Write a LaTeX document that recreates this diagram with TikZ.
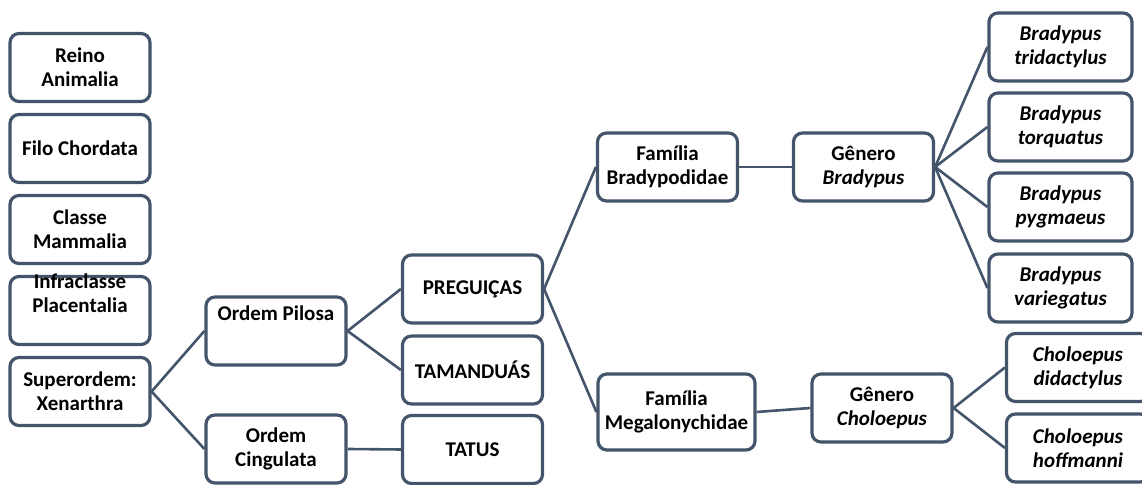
\documentclass[tikz,border=0pt]{standalone}
\usepackage{fontspec}
\setmainfont{Carlito}
\usepackage{tikz}
\usetikzlibrary{positioning}
\definecolor{slate}{RGB}{68,84,106}

\begin{document}
\begin{tikzpicture}[x=0.5pt, y=-0.5pt, font=\fontsize{10.5}{12}\selectfont\bfseries, every node/.style={inner sep=2pt}]
    \tikzset{
        taxon/.style={draw=slate, line width=1.6pt, rounded corners=4.5pt, fill=white, align=center, minimum width=70pt, minimum height=34pt},
        species/.style={taxon, minimum width=71.5pt, font=\fontsize{10.5}{12}\selectfont\bfseries\itshape},
        wide/.style={taxon, minimum width=78.5pt, minimum height=38pt},
        note/.style={align=center, inner sep=0pt},
        link/.style={draw=slate, line width=1.3pt}
    }
    \useasboundingbox (0,0) rectangle (1142,485);

    % Left column: upper ranks
    \node[taxon] (reino) at (80,67.5) {Reino\\Animalia};
    \node[taxon, below=4.9pt of reino] (filo) {Filo Chordata};
    \node[taxon, below=4.9pt of filo] (classe) {Classe\\Mammalia};
    \node[taxon, below=4.9pt of classe] (infra) {};
    \node[note] (infratext) at ([yshift=8.5pt]infra.center) {Infraclasse\\Placentalia};
    \node[taxon, below=4.9pt of infra] (xenar) {Superordem:\\Xenarthra};

    % Orders and common names
    \node[taxon] (pilosa) at (276,331) {};
    \node[note] (pilosatext) at ([yshift=9pt]pilosa.center) {Ordem Pilosa};
    \node[taxon] (cingulata) at (276,449) {Ordem\\Cingulata};
    \node[taxon] (preg) at (472.5,289) {PREGUIÇAS};
    \node[taxon] (taman) at (472.5,370) {TAMANDUÁS};
    \node[taxon] (tatus) at (472.5,449.5) {TATUS};

    % Families and genera
    \node[taxon] (bradypo) at (667.5,167) {Família\\Bradypodidae};
    \node[wide] (megalo) at (676.5,412) {Família\\Megalonychidae};
    \node[taxon] (genbrad) at (863.5,167) {Gênero\\\textit{Bradypus}};
    \node[taxon] (genchol) at (882,408) {Gênero\\\textit{Choloepus}};

    % Species
    \node[species] (tridac) at (1060.5,47) {Bradypus\\tridactylus};
    \node[species] (torq) at (1060.5,127) {Bradypus\\torquatus};
    \node[species] (pygm) at (1060.5,207) {Bradypus\\pygmaeus};
    \node[species] (varieg) at (1060.5,288) {Bradypus\\variegatus};
    \node[species] (didac) at (1078,367.5) {Choloepus\\didactylus};
    \node[species] (hoff) at (1078,448) {Choloepus\\hoffmanni};

    % Branches
    \draw[link] (xenar.east) -- (pilosa.west);
    \draw[link] (xenar.east) -- (cingulata.west);
    \draw[link] (pilosa.east) -- (preg.west);
    \draw[link] (pilosa.east) -- (taman.west);
    \draw[link] (cingulata.east) -- (tatus.west);
    \draw[link] (preg.east) -- (bradypo.west);
    \draw[link] (preg.east) -- (megalo.west);
    \draw[link] (bradypo.east) -- (genbrad.west);
    \draw[link] (megalo.east) -- (genchol.west);
    \foreach \sp in {tridac,torq,pygm,varieg}
        \draw[link] (genbrad.east) -- (\sp.west);
    \foreach \sp in {didac,hoff}
        \draw[link] (genchol.east) -- (\sp.west);
\end{tikzpicture}
\end{document}
